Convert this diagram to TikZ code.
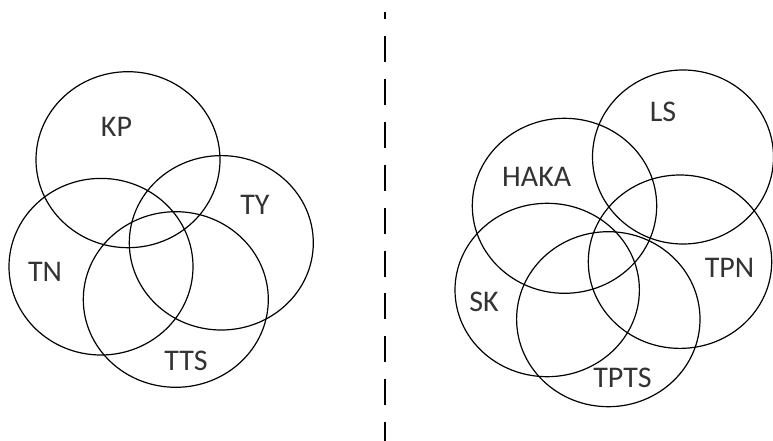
\documentclass[tikz,border=0pt]{standalone}
\usepackage{fontspec}
\setmainfont{Carlito}
\begin{document}
\begin{tikzpicture}[x=1pt,y=-1pt,
  venn/.style={draw=black,line width=1.2pt},
  lab/.style={font=\fontsize{30}{30}\selectfont,text=black!80,inner sep=0pt,anchor=center}]
\useasboundingbox[fill=white] (0,0) rectangle (773,441);
% left group
\draw[venn] (128,159.7) ellipse [x radius=92,y radius=88];
\draw[venn] (101,266.7) ellipse [x radius=92,y radius=88.3];
\draw[venn] (221.3,242.8) ellipse [x radius=92,y radius=87.2];
\draw[venn] (175.8,299.5) ellipse [x radius=92.5,y radius=87.8];
\node[lab] (kp) at (116.5,126.7) {KP};
\node[lab] (ty) at (255,205) {TY};
\node[lab] (tn) at (45,271.5) {TN};
\node[lab] (tts) at (186,361.3) {TTS};
% divider
\draw[line width=2pt,dash pattern=on 26pt off 16.9pt,dash phase=18.6pt] (385.3,11.7) -- (385.3,441);
% right group
\draw[venn] (683,157) ellipse [x radius=90.5,y radius=87];
\draw[venn] (564.5,205.8) ellipse [x radius=92.2,y radius=87.5];
\draw[venn] (680,261.7) ellipse [x radius=91.7,y radius=86.7];
\draw[venn] (547.2,290) ellipse [x radius=92.2,y radius=86.7];
\draw[venn] (608.3,319.2) ellipse [x radius=91.7,y radius=87.5];
\node[lab] (ls) at (663,111.7) {LS};
\node[lab] (haka) at (536.7,177) {HAKA};
\node[lab] (tpn) at (729.5,268) {TPN};
\node[lab] (sk) at (484,301.7) {SK};
\node[lab] (tpts) at (622.5,378.3) {TPTS};
\end{tikzpicture}
\end{document}
